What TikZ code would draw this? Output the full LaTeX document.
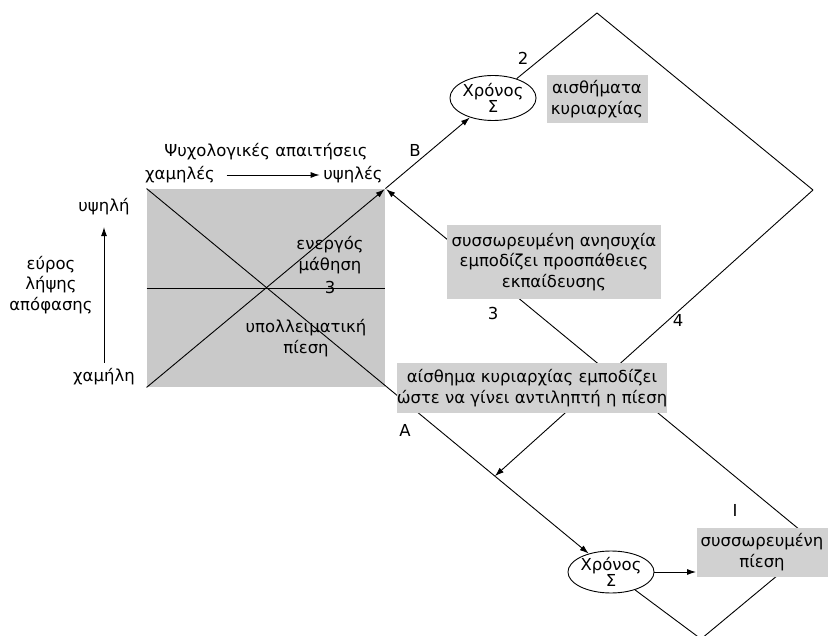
\documentclass[tikz,border=0pt]{standalone}
\usepackage{fontspec}
\setmainfont{DejaVu Sans}
\usetikzlibrary{arrows.meta,shapes.geometric,calc}

\definecolor{boxgrey}{gray}{0.82}
\definecolor{sqgrey}{gray}{0.79}
\tikzstyle{greekfig}=[x=1pt,y=-1pt,line width=0.9pt,font=\fontsize{16.5}{20.5}\selectfont]
\tikzstyle{arr}=[-{Latex[length=9pt,width=6pt]}]
\tikzstyle{greybox}=[fill=boxgrey,align=center,inner sep=0pt]
\tikzstyle{timer}=[draw,ellipse,align=center,inner sep=0pt,font=\fontsize{16.5}{14}\selectfont]

\begin{document}
\begin{tikzpicture}[style=greekfig]
\clip (0,0) rectangle (830,636);

% the grid of demands and decision range
\node[fill=sqgrey, minimum width=238, minimum height=198, inner sep=0pt] (sq) at (266,288) {};
\node (psy) at (266,152) {Ψυχολογικές απαιτήσεις};
\node (lo) at (180,175) {χαμηλές};
\node (hi) at (353,175) {υψηλές};
\draw[arr, shorten <=8pt] (lo) -- (hi);

\node (up) at (104,207) {υψηλή};
\node (down) at (104,377) {χαμήλη};
\node[align=center] (range) at (51,285) {εύρος\\λήψης\\απόφασης};
\draw[arr, shorten <=2pt, shorten >=8pt] (down) -- (up);

\node[align=center] (active) at (330,255) {ενεργός\\μάθηση};
\node (three) at (330,287) {3};
\node[align=center] (resid) at (306,338) {υπολλειματική\\πίεση};

% corners of the diamonds
\coordinate (vB) at (sq.north east);
\coordinate (vTop) at (597,13);
\coordinate (vRight) at (813,190);
\coordinate (vBot) at (701,639);

\node[timer, minimum width=84, minimum height=45] (t2) at (493,98) {Χρόνος\\Σ};
\node[timer, minimum width=82, minimum height=38] (t1) at (611,572) {Χρόνος\\Σ};

% lines, partly hidden under the boxes
\draw (sq.west) -- (sq.east);
\draw[arr, shorten >=1pt] (sq.south west) -- (vB);
\draw[arr] (sq.north west) -- (t1);
\coordinate (onA) at ($(sq.north west)!0.75!(t1)$);
\draw[arr] (vB) -- (t2);
\draw (t2) -- (vTop) -- (vRight);
\draw[arr] (vRight) -- (onA);
\coordinate (pN) at (800,530);
\draw[arr, shorten >=1pt] (pN) -- (vB);
\coordinate (pS) at (778,575);
\draw (t1) -- (vBot);
\draw (pS) -- (vBot);

\node[greybox, minimum width=101, minimum height=48] (dom) at (597,99) {αισθήματα\\κυριαρχίας};
\node[greybox, minimum width=214, minimum height=74] (worry) at (554,262) {συσσωρευμένη ανησυχία\\εμποδίζει προσπάθειες\\εκπαίδευσης};
\node[greybox, minimum width=269, minimum height=50] (mastery) at (532,388) {αίσθημα κυριαρχίας εμποδίζει\\ώστε να γίνει αντιληπτή η πίεση};
\node[greybox, minimum width=131, minimum height=49] (press) at (762,552) {συσσωρευμένη\\πίεση};
\draw[arr] (t1) -- (t1 -| press.west);

\node (n2) at (523,58) {2};
\node (nB) at (415,150) {B};
\node (n3) at (493,313) {3};
\node (n4) at (678,320) {4};
\node (nA) at (405,430) {A};
\node (n1) at (735,510) {I};
\end{tikzpicture}
\end{document}
